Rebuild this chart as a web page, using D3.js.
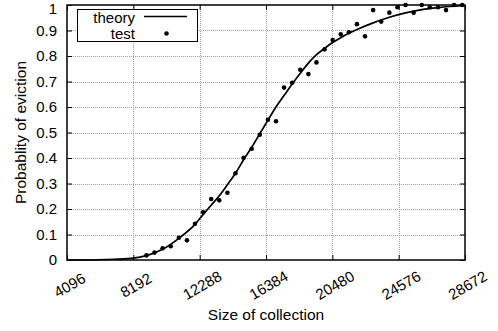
<!DOCTYPE html>
<html>
<head>
<meta charset="utf-8">
<script src="https://cdn.jsdelivr.net/npm/d3@7"></script>
<style>
  html, body { margin: 0; padding: 0; background: #fff; }
  svg { display: block; }
  text { font-family: "Liberation Sans", Arial, Helvetica, sans-serif; fill: #000; }
</style>
</head>
<body>
<script>
// Measured eviction probability for each collection size
const testSizes = [9000, 9500, 10000, 10500, 11000, 11500, 12000, 12500, 13000, 13500,
  14000, 14500, 15000, 15500, 16000, 16500, 17000, 17500, 18000, 18500,
  19000, 19500, 20000, 20500, 21000, 21500, 22000, 22500, 23000, 23500,
  24000, 24500, 25000, 25500, 26000, 26500, 27000, 27500, 28000, 28500];
const testProb = [0.018, 0.029, 0.046, 0.054, 0.087, 0.077, 0.142, 0.187, 0.239, 0.234,
  0.264, 0.340, 0.401, 0.436, 0.491, 0.550, 0.544, 0.676, 0.695, 0.746,
  0.729, 0.775, 0.826, 0.863, 0.885, 0.893, 0.925, 0.877, 0.980, 0.935,
  0.970, 0.991, 1.0, 0.970, 1.0, 0.991, 0.991, 0.980, 1.0, 1.0];

// Theoretical curve, sampled
const theorySizes = [4096, 5000, 6000, 7000, 8192, 9000, 10000, 11000, 12000, 12500,
  13000, 13500, 14000, 14500, 15000, 15500, 16000, 16500, 17000, 17500,
  18000, 18500, 19000, 19500, 20000, 20500, 21000, 21500, 22000, 23000,
  24000, 25000, 26000, 27000, 28000, 28672];
const theoryProb = [0, 0, 0.001, 0.003, 0.007, 0.017, 0.042, 0.085, 0.140, 0.178,
  0.215, 0.252, 0.295, 0.340, 0.393, 0.442, 0.495, 0.548, 0.600, 0.645,
  0.690, 0.732, 0.772, 0.805, 0.830, 0.853, 0.872, 0.889, 0.904, 0.930,
  0.952, 0.969, 0.982, 0.990, 0.995, 0.997];

const xTicks = [4096, 8192, 12288, 16384, 20480, 24576, 28672];
const yTicks = [0, 0.1, 0.2, 0.3, 0.4, 0.5, 0.6, 0.7, 0.8, 0.9, 1];
const yTickLabels = ["0", "0.1", "0.2", "0.3", "0.4", "0.5", "0.6", "0.7", "0.8", "0.9", "1"];
const legendLabels = ["theory", "test"];

const W = 498, H = 331;
const plot = { left: 67, right: 465, top: 5, bottom: 260 };

const svg = d3.select("body").append("svg")
  .attr("width", W).attr("height", H);

const x = d3.scaleLinear().domain([4096, 28672]).range([plot.left, plot.right]);
const y = d3.scaleLinear().domain([0, 1]).range([plot.bottom, plot.top]);

// grid
const grid = svg.append("g")
  .attr("stroke", "#a0a0a0").attr("stroke-width", 1)
  .attr("stroke-dasharray", "1,1");
grid.selectAll(".gx").data(xTicks.slice(1, -1)).join("line")
  .attr("x1", d => Math.round(x(d)) + 0.5).attr("x2", d => Math.round(x(d)) + 0.5)
  .attr("y1", plot.top).attr("y2", plot.bottom);
grid.selectAll(".gy").data(yTicks.slice(1, -1)).join("line")
  .attr("y1", d => Math.round(y(d)) + 0.5).attr("y2", d => Math.round(y(d)) + 0.5)
  .attr("x1", plot.left).attr("x2", plot.right);

// axes with inward ticks on all four sides
const fontSize = 15;
const axB = svg.append("g").attr("transform", `translate(0,${plot.bottom})`)
  .call(d3.axisBottom(x).tickValues(xTicks).tickSize(-5).tickFormat(""));
const axT = svg.append("g").attr("transform", `translate(0,${plot.top})`)
  .call(d3.axisTop(x).tickValues(xTicks).tickSize(-5).tickFormat(""));
const axL = svg.append("g").attr("transform", `translate(${plot.left},0)`)
  .call(d3.axisLeft(y).tickValues(yTicks).tickSize(-5).tickFormat((d, i) => yTickLabels[i]));
const axR = svg.append("g").attr("transform", `translate(${plot.right},0)`)
  .call(d3.axisRight(y).tickValues(yTicks).tickSize(-5).tickFormat(""));
[axB, axT, axL, axR].forEach(a => {
  a.select(".domain").remove();
  a.selectAll(".tick line").attr("stroke", "#000").attr("stroke-width", 1);
});
axL.selectAll(".tick text")
  .attr("x", -10).attr("font-size", fontSize)
  .attr("font-family", "Liberation Sans, Arial, sans-serif").attr("fill", "#000");
// keep the top label inside the page
axL.selectAll(".tick text").filter(d => d === 1).attr("dy", "0.58em");

// rotated x tick labels
axB.selectAll(".tick").append("text")
  .text(d => d)
  .attr("font-size", fontSize)
  .attr("font-family", "Liberation Sans, Arial, sans-serif")
  .attr("fill", "#000")
  .attr("text-anchor", "middle")
  .attr("dominant-baseline", "central")
  .attr("transform", "translate(2,25) rotate(-30)");

// axis titles
svg.append("text")
  .attr("x", (plot.left + plot.right) / 2).attr("y", 320)
  .attr("text-anchor", "middle").attr("font-size", 15.5)
  .text("Size of collection");
svg.append("text")
  .attr("transform", `translate(26,${(plot.top + plot.bottom) / 2}) rotate(-90)`)
  .attr("text-anchor", "middle").attr("font-size", 15.5)
  .text("Probablity of eviction");

// theory curve
const line = d3.line()
  .x((d, i) => x(theorySizes[i]))
  .y(d => y(d))
  .curve(d3.curveMonotoneX);
svg.append("path")
  .attr("d", line(theoryProb))
  .attr("fill", "none").attr("stroke", "#000").attr("stroke-width", 1.7);

// test points
svg.append("g").selectAll("circle").data(testProb).join("circle")
  .attr("cx", (d, i) => x(testSizes[i]))
  .attr("cy", d => y(d))
  .attr("r", 2.3).attr("fill", "#000");

// border
svg.append("rect")
  .attr("x", plot.left).attr("y", plot.top)
  .attr("width", plot.right - plot.left).attr("height", plot.bottom - plot.top)
  .attr("fill", "none").attr("stroke", "#000").attr("stroke-width", 1.5);

// legend
const lg = svg.append("g");
lg.append("rect")
  .attr("x", 77.5).attr("y", 9.5).attr("width", 120).attr("height", 32)
  .attr("fill", "#fff").attr("stroke", "#000").attr("stroke-width", 1);
lg.append("text").attr("x", 135).attr("y", 17).attr("text-anchor", "end")
  .attr("dominant-baseline", "central").attr("font-size", fontSize).text(legendLabels[0]);
lg.append("text").attr("x", 135).attr("y", 33.5).attr("text-anchor", "end")
  .attr("dominant-baseline", "central").attr("font-size", fontSize).text(legendLabels[1]);
lg.append("line").attr("x1", 144).attr("x2", 187).attr("y1", 16.5).attr("y2", 16.5)
  .attr("stroke", "#000").attr("stroke-width", 1.7);
lg.append("circle").attr("cx", 166.5).attr("cy", 33.5).attr("r", 2.3).attr("fill", "#000");
</script>
</body>
</html>
